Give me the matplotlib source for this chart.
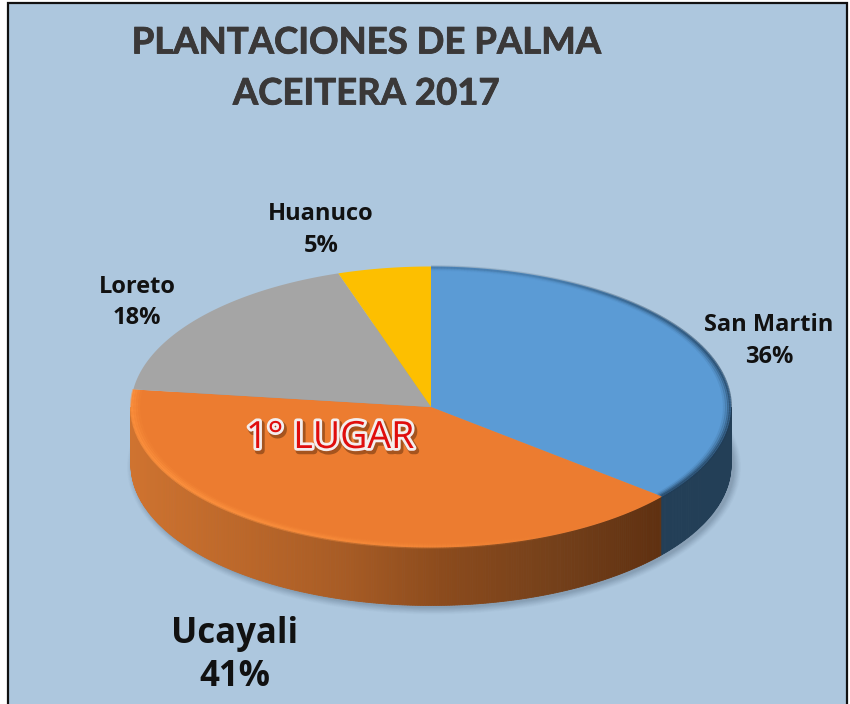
import numpy as np
import matplotlib
matplotlib.use("Agg")
import matplotlib.pyplot as plt
import matplotlib.patheffects as pe
from matplotlib.collections import LineCollection
from matplotlib.colors import LinearSegmentedColormap, to_rgb
from matplotlib.patches import Ellipse, Polygon, Rectangle

plt.rcParams['font.family'] = ['Lato', 'DejaVu Sans']

# data
provinces = ["San Martin", "Ucayali", "Loreto", "Huanuco"]
shares = [36, 41, 18, 5]
colors = ["#5b9bd5", "#ec7c30", "#a5a5a5", "#fdbf00"]
title_lines = ["PLANTACIONES DE PALMA", "ACEITERA 2017"]

# pie geometry in pixels
cx, cy = 431, 407
rx, ry = 300, 140.5
depth = 58


def rim(theta, r=1.0, dy=0.0):
    # theta in degrees, clockwise from the top
    t = np.radians(theta)
    return cx + r * rx * np.sin(t), cy - r * ry * np.cos(t) + dy


def bevel(th, color, radii, alphas, fade):
    # rim glow, alpha follows fade(theta) so it has no visible steps
    rgb = to_rgb(color)
    for r, a in zip(radii, alphas):
        xs, ys = rim(th, r)
        pts = np.column_stack([xs, ys])
        segs = np.stack([pts[:-1], pts[1:]], axis=1)
        seg_colors = [(*rgb, a * f) for f in fade(th[:-1])]
        ax.add_collection(LineCollection(segs, colors=seg_colors, linewidths=2.2,
                                         capstyle="butt"))


fig = plt.figure(figsize=(8.5, 7.04), dpi=100, facecolor="white")
ax = fig.add_axes([0, 0, 1, 1])
ax.set_xlim(0, 850)
ax.set_ylim(704, 0)
ax.axis("off")

# background panel
ax.add_patch(Rectangle((8.5, 2.5), 839, 720, fc="#adc7de", ec="#111111", lw=1.6))

# soft shadow under the pie
for grow, a in zip(np.linspace(14, 1, 10), np.linspace(0.025, 0.06, 10)):
    ax.add_patch(Ellipse((cx + 3, cy + depth + 2), 2 * rx + grow, 2 * ry + grow,
                         fc="#4a5f75", ec="none", alpha=a))

edges = np.cumsum([0] + shares) * 3.6

# side walls, shaded by x position
wall_cmap = LinearSegmentedColormap.from_list(
    "wall", ["#cf7330", "#bd682a", "#a85c25", "#8a4a1c", "#74401a", "#5f3010"])
steps = np.arange(90, 270.5, 0.5)
for a, b in zip(steps[:-1], steps[1:]):
    x0, y0 = rim(a)
    x1, y1 = rim(b)
    if a < edges[1]:
        c = "#233f57"
    else:
        c = wall_cmap((x0 - 130) / (665 - 130))
    ax.add_patch(Polygon([(x0, y0), (x1, y1), (x1, y1 + depth), (x0, y0 + depth)],
                         fc=c, ec=c, lw=0.6))

# top faces
for i in range(len(shares)):
    th = np.linspace(edges[i], edges[i + 1], 200)
    xs, ys = rim(th)
    pts = np.column_stack([np.r_[cx, xs], np.r_[cy, ys]])
    ax.add_patch(Polygon(pts, fc=colors[i], ec="none"))

# bevel on the rim: blue goes dark toward the front, orange bright on the left
bevel(np.linspace(edges[0], edges[1], 200), "#1f3c57",
      [0.998, 0.992, 0.985, 0.978], [0.6, 0.4, 0.22, 0.1],
      lambda t: np.clip(0.25 + (t - 20) / 70, 0.25, 1.0))
bevel(np.linspace(edges[1], edges[2], 300), "#ff9440",
      [0.998, 0.99, 0.982, 0.974], [0.7, 0.5, 0.3, 0.14],
      lambda t: np.clip((t - 150) / 90, 0.0, 1.0))

# title
for line, y in zip(title_lines, [43, 94]):
    ax.text(366, y, line, ha="center", va="center", fontsize=26.3,
            fontweight="bold", color="#3a3838",
            path_effects=[pe.withStroke(linewidth=0.6, foreground="#3a3838")])

# labels
label_pos = [(769, 325, 769, 357), (235, 634, 235, 677),
             (137, 287, 137, 318), (321, 214, 321, 246)]
for name, share, (x1, y1, x2, y2) in zip(provinces, shares, label_pos):
    fs = 25 if name == "Ucayali" else 17
    ax.text(x1, y1, name, ha="center", va="center", fontsize=fs,
            family="Open Sans", fontweight="bold", color="#111111")
    ax.text(x2, y2, f"{share}%", ha="center", va="center", fontsize=fs,
            family="Open Sans", fontweight="bold", color="#111111")

# callout
ax.text(330, 438, "1° LUGAR", ha="center", va="center", fontsize=27,
        family="Open Sans", fontweight="normal", color="#e00d0d",
        path_effects=[pe.Stroke(linewidth=5, foreground="#6b3410", offset=(1.5, -2), alpha=0.55),
                      pe.Stroke(linewidth=4, foreground="#f4eeee"),
                      pe.Normal()])

fig.savefig("out.png", dpi=100)
